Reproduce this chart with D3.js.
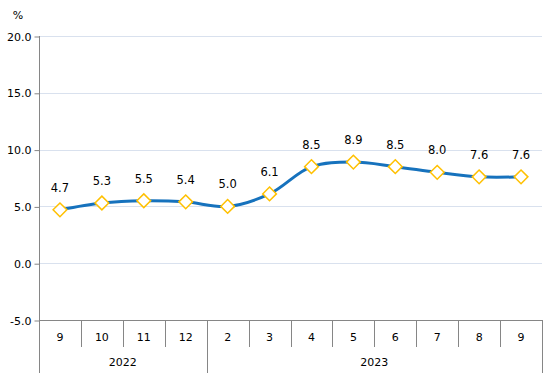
<!DOCTYPE html>
<html>
<head>
<meta charset="utf-8">
<script src="https://cdn.jsdelivr.net/npm/d3@7"></script>
<style>
  body { margin: 0; background: #fff; }
  text { font-family: "DejaVu Sans", Verdana, sans-serif; fill: #000; }
</style>
</head>
<body>
<div class="main"></div>
<script>
// dados do grafico
var months = ['9', '10', '11', '12', '2', '3', '4', '5', '6', '7', '8', '9'];
var years  = [{label: '2022', start: 0, end: 4}, {label: '2023', start: 4, end: 12}];
var values = [4.7, 5.3, 5.5, 5.4, 5.0, 6.1, 8.5, 8.9, 8.5, 8.0, 7.6, 7.6];
var yTicks = [-5, 0, 5, 10, 15, 20];

var W = 553, H = 381,
    pLeft = 39, pRight = 542, pTop = 36, pBottom = 320;

var svg = d3.select('.main').append('svg')
    .attr('width', W).attr('height', H);

var x = d3.scaleBand().domain(d3.range(months.length)).range([pLeft, pRight]);
var y = d3.scaleLinear().domain([-5, 20]).range([pBottom, pTop]);

// grade horizontal
svg.append('g').selectAll('line').data(yTicks.filter(d => d > -5)).enter()
    .append('line')
    .attr('x1', pLeft).attr('x2', pRight)
    .attr('y1', d => Math.round(y(d)) + 0.5).attr('y2', d => Math.round(y(d)) + 0.5)
    .attr('stroke', '#D9E1EE').attr('stroke-width', 1);

// eixo y
var yAxis = svg.append('g')
    .attr('transform', 'translate(' + (pLeft + 0.5) + ',0.5)')
    .call(d3.axisLeft(y).tickValues(yTicks).tickSize(5).tickPadding(3).tickFormat(d => d.toFixed(1)));
yAxis.select('path').remove();
yAxis.selectAll('line').attr('stroke', '#868686');
yAxis.selectAll('text').style('font-size', '11px').attr('fill', '#000');

svg.append('line')
    .attr('x1', pLeft + 0.5).attr('x2', pLeft + 0.5)
    .attr('y1', pTop).attr('y2', 373)
    .attr('stroke', '#868686');

svg.append('text').attr('x', 18).attr('y', 19)
    .attr('text-anchor', 'middle').style('font-size', '11px').text('%');

// eixo x (categorias em dois niveis)
svg.append('line')
    .attr('x1', pLeft).attr('x2', pRight)
    .attr('y1', pBottom + 0.5).attr('y2', pBottom + 0.5)
    .attr('stroke', '#868686');

var xb = svg.append('g');
d3.range(1, months.length + 1).forEach(function(i) {
    var xx = i < months.length ? x(i) : pRight;
    var isYear = years.some(yr => yr.end === i);
    xb.append('line')
        .attr('x1', Math.round(xx) + 0.5).attr('x2', Math.round(xx) + 0.5)
        .attr('y1', pBottom).attr('y2', isYear ? 373 : 347)
        .attr('stroke', '#868686');
});

xb.selectAll('.m').data(months).enter().append('text')
    .attr('x', (d, i) => x(i) + x.bandwidth() / 2)
    .attr('y', 341)
    .attr('text-anchor', 'middle').style('font-size', '11px')
    .text(d => d);

xb.selectAll('.yr').data(years).enter().append('text')
    .attr('x', d => (x(d.start) + (d.end < months.length ? x(d.end) : pRight)) / 2)
    .attr('y', 366)
    .attr('text-anchor', 'middle').style('font-size', '11px')
    .text(d => d.label);

// linha suavizada
var line = d3.line()
    .x((d, i) => x(i) + x.bandwidth() / 2)
    .y(d => y(d))
    .curve(d3.curveCatmullRom.alpha(0.5));

svg.append('path').datum(values)
    .attr('d', line)
    .attr('fill', 'none')
    .attr('stroke', '#1672BD')
    .attr('stroke-width', 3);

// marcadores
var sym = d3.symbol().type(d3.symbolDiamond2).size(120);
svg.append('g').selectAll('path').data(values).enter().append('path')
    .attr('d', sym)
    .attr('transform', (d, i) => 'translate(' + (x(i) + x.bandwidth() / 2) + ',' + y(d) + ')')
    .attr('fill', '#fff')
    .attr('stroke', '#FFC000')
    .attr('stroke-width', 1.5);

// rotulos
svg.append('g').selectAll('text').data(values).enter().append('text')
    .attr('x', (d, i) => x(i) + x.bandwidth() / 2)
    .attr('y', d => y(d) - 18)
    .attr('text-anchor', 'middle').style('font-size', '11.5px')
    .text(d => d.toFixed(1));
</script>
</body>
</html>
